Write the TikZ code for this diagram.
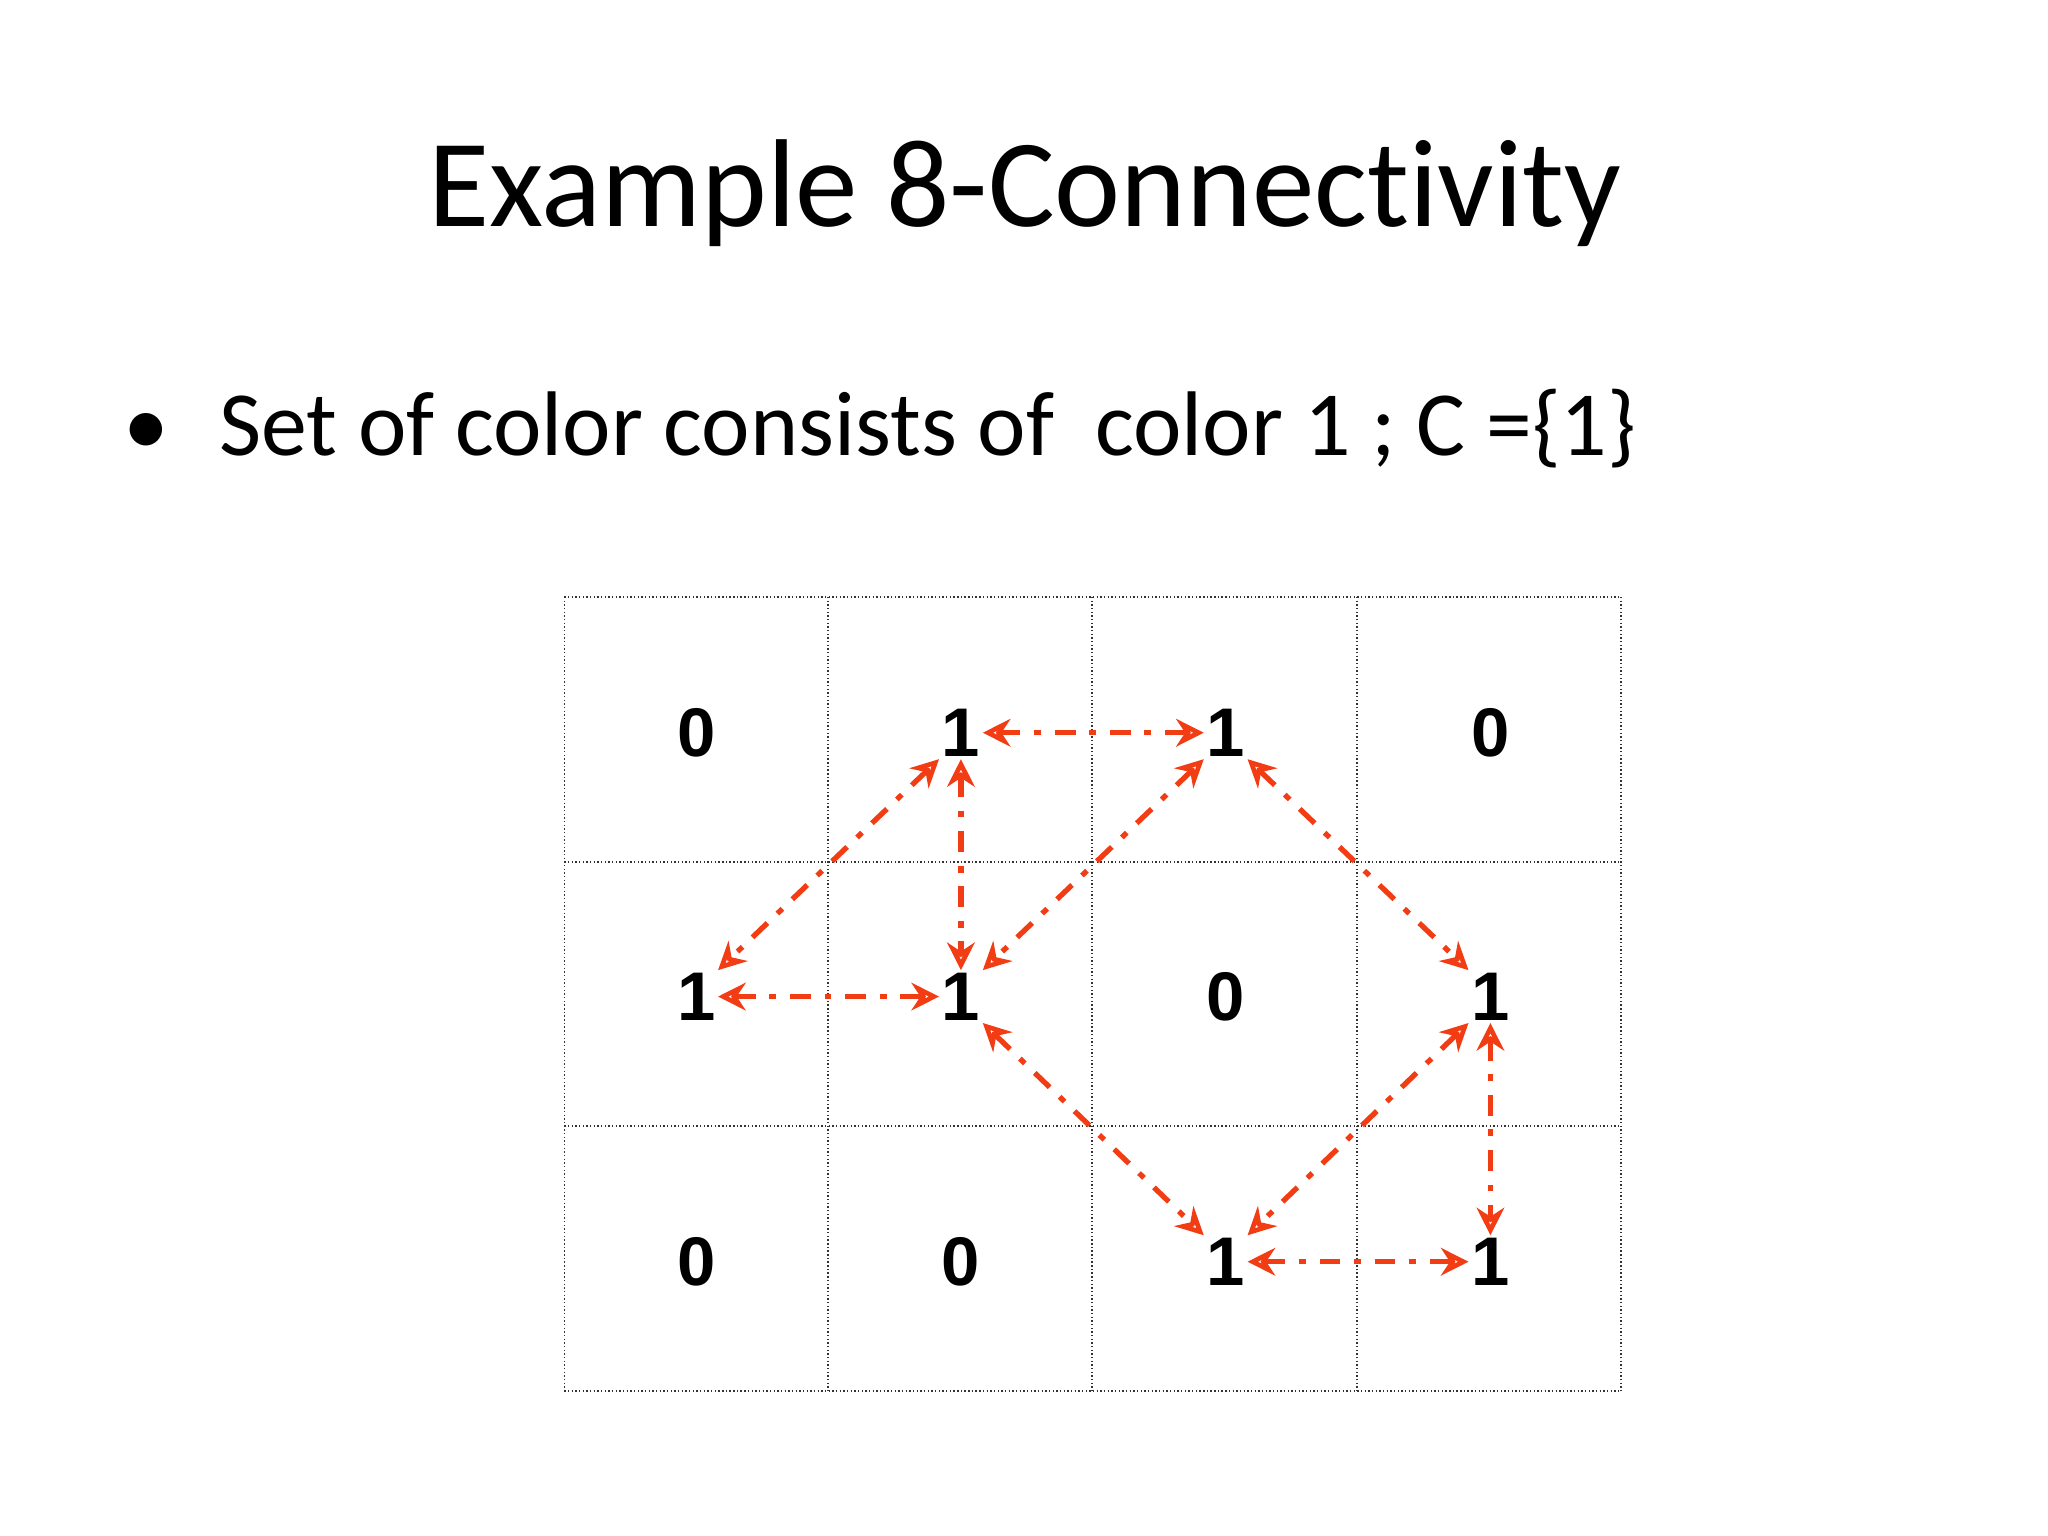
\documentclass[tikz,border=0pt]{standalone}
\usepackage{fontspec}
\setmainfont[Ligatures={NoCommon,NoRare}]{Carlito}
\newfontfamily\digitfont{Liberation Sans}
\usetikzlibrary{arrows.meta}
\definecolor{conn}{HTML}{F23C14}
\tikzset{
  cell/.style={draw=black!80,line width=0.6pt,densely dotted},
  digit/.style={font=\digitfont\bfseries\fontsize{30}{30}\selectfont,inner sep=1pt},
  link/.style={conn,line width=2.3pt,dash pattern=on 9pt off 6pt on 3pt off 6pt,
    {Stealth[length=12pt,width=12pt,open]}-{Stealth[length=12pt,width=12pt,open]},shorten <=0pt,shorten >=0pt}
}
\begin{document}
\begin{tikzpicture}[x=0.02cm,y=-0.02cm]
\useasboundingbox[fill=white] (0,0) rectangle (1568,1176);
\node[font=\fontsize{54.5}{54.5}\selectfont] (title) at (785,148) {Example 8-Connectivity};
\node[anchor=west,font=\fontsize{40}{40}\selectfont] (bullet) at (88,328) {\textbullet\hspace{0.55em}Set of color consists of\ \ color 1 ; C =\{1\}};
\foreach \x in {432,634,836,1039,1241} \draw[cell] (\x,457) -- (\x,1065);
\foreach \y in {457,660,862,1065} \draw[cell] (432,\y) -- (1241,\y);
\foreach \v [count=\i] in {0,1,1,0}{\node[digit] (a\i) at ({533+202.7*(\i-1)},561) {\v};}
\foreach \v [count=\i] in {1,1,0,1}{\node[digit] (b\i) at ({533+202.7*(\i-1)},763) {\v};}
\foreach \v [count=\i] in {0,0,1,1}{\node[digit] (c\i) at ({533+202.7*(\i-1)},966) {\v};}
\draw[link] (a2.east) -- (a3.west);
\draw[link] (a2.south west) -- (b1.north east);
\draw[link] (a2.south) -- (b2.north);
\draw[link] (a3.south west) -- (b2.north east);
\draw[link] (a3.south east) -- (b4.north west);
\draw[link] (b1.east) -- (b2.west);
\draw[link] (b2.south east) -- (c3.north west);
\draw[link] (b4.south west) -- (c3.north east);
\draw[link] (b4.south) -- (c4.north);
\draw[link] (c3.east) -- (c4.west);
\end{tikzpicture}
\end{document}
